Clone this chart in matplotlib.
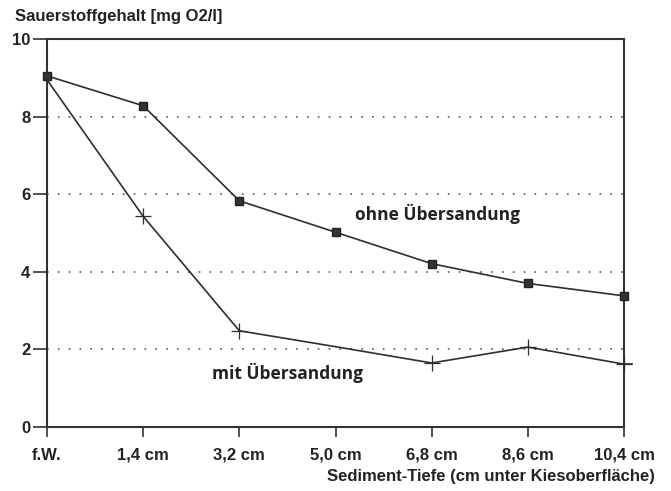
import matplotlib
matplotlib.use("Agg")
import matplotlib.pyplot as plt

categories = ["f.W.", "1,4 cm", "3,2 cm", "5,0 cm", "6,8 cm", "8,6 cm", "10,4 cm"]
ohne = [9.05, 8.28, 5.83, 5.02, 4.21, 3.70, 3.38]
mit = [8.95, 5.43, 2.48, 2.07, 1.65, 2.06, 1.62]
yticks = [0, 2, 4, 6, 8, 10]

fig = plt.figure(figsize=(6.71, 4.91), dpi=100)
ax = fig.add_axes([47/671, 1-427/491, (624-47)/671, (427-39)/491])
x = list(range(len(categories)))

col = "#2e2e2e"
ax.plot(x, ohne, color=col, lw=1.2, marker="s", ms=6, mfc="#333333", mec="#222222", zorder=3, clip_on=False)
ax.plot(x, mit, color=col, lw=1.2, marker="+", ms=11, mew=0.9, markevery=[1, 2, 4, 5, 6], zorder=3, clip_on=False)
# short extension of the last segment beyond the right frame
ax.plot([x[-1], x[-1] + 0.08], [mit[-1], mit[-1]], color=col, lw=1.2, clip_on=False)

ax.set_xlim(0, len(categories) - 1)
ax.set_ylim(0, 10)
ax.set_xticks(x)
ax.set_xticklabels(categories)
ax.set_yticks(yticks)
ax.set_yticklabels([str(v) for v in yticks])

for v in [2, 4, 6, 8]:
    ax.axhline(v, color="#555555", lw=1.2, ls=(0, (1, 5.5)), zorder=1)

for s in ax.spines.values():
    s.set_color("#333333")
    s.set_linewidth(1.5)

ax.tick_params(axis="both", direction="out", width=1.2, color="#333333",
               labelsize=12, labelcolor="#222222")
ax.tick_params(axis="y", length=10, pad=2)
ax.tick_params(axis="x", length=7, pad=8)
for lab in ax.get_xticklabels() + ax.get_yticklabels():
    lab.set_fontfamily("Liberation Sans")
    lab.set_fontweight("bold")

fig.text(15/671, 1-17/491, "Sauerstoffgehalt [mg O2/l]", fontsize=12, fontweight="bold",
         family="Liberation Sans", color="#222222", ha="left", va="center")
fig.text(655/671, 1-476/491, "Sediment-Tiefe (cm unter Kiesoberfläche)", fontsize=12,
         fontweight="bold", family="Liberation Sans", color="#222222", ha="right", va="center")

ax.text(4.06, 5.5, "ohne Übersandung", fontsize=12.5, fontweight="bold", family="Open Sans",
        color="#222222", ha="center", va="center")
ax.text(2.5, 1.39, "mit Übersandung", fontsize=12.5, fontweight="bold", family="Open Sans",
        color="#222222", ha="center", va="center")

fig.savefig("out.png", dpi=100)
